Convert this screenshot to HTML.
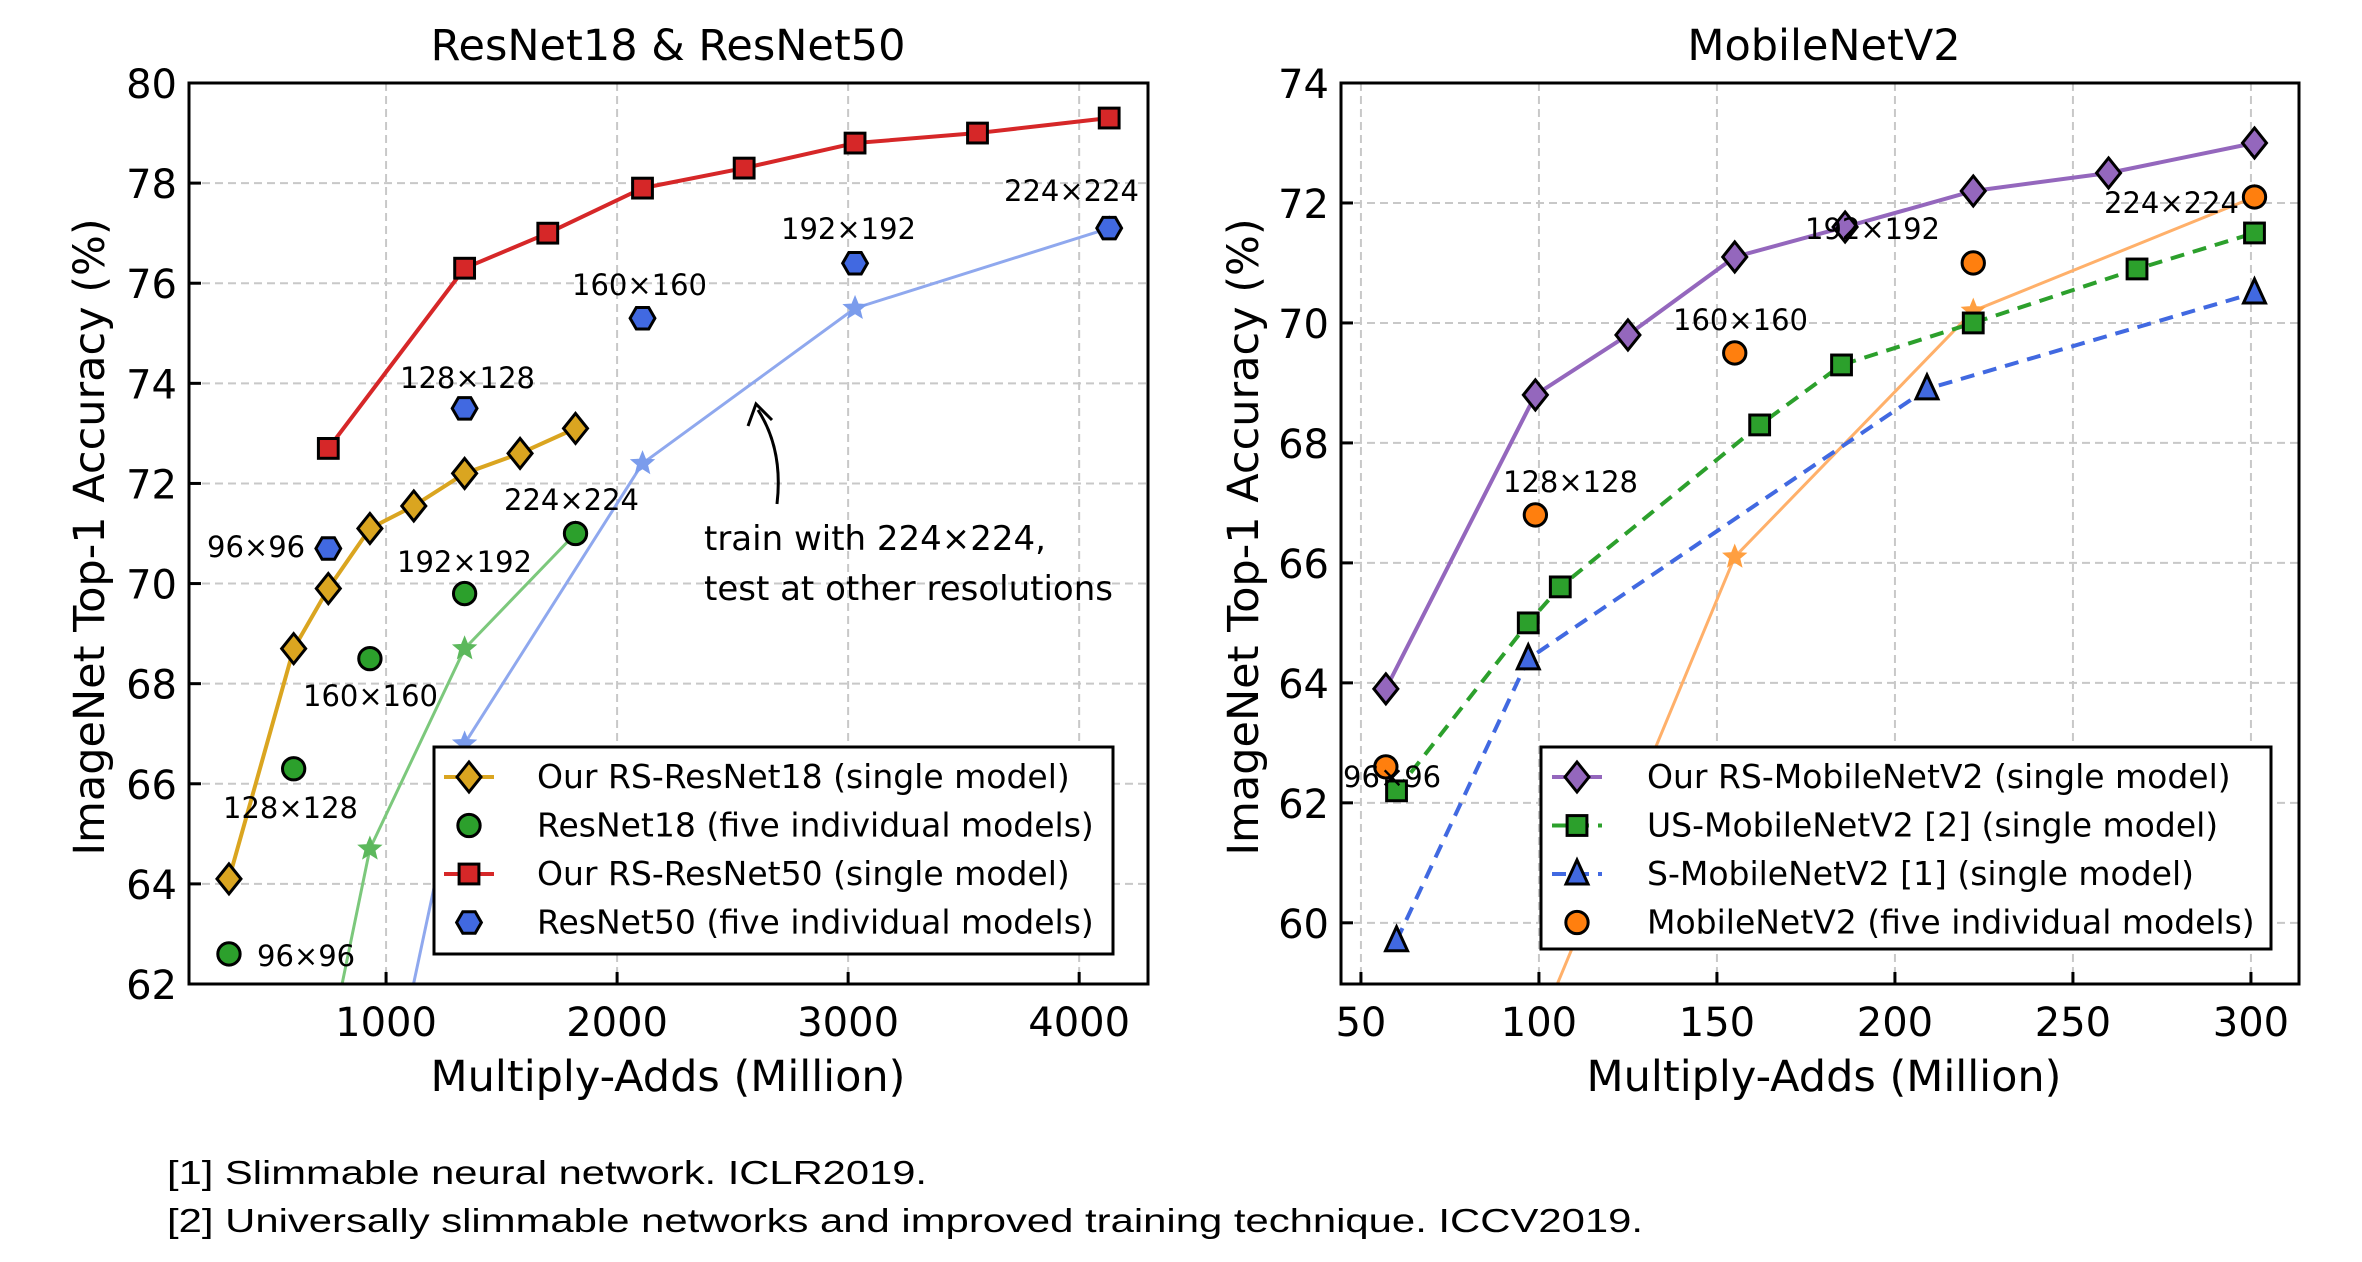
<!DOCTYPE html>
<html><head><meta charset="utf-8"><style>
html,body{margin:0;padding:0;background:#fff;}
svg{display:block;font-family:"DejaVu Sans","Liberation Sans",sans-serif;}
</style></head><body>
<svg id="fig" width="2362" height="1262" viewBox="0 0 2362 1262" xmlns="http://www.w3.org/2000/svg">
<defs>
<clipPath id="clipL"><rect x="189" y="83" width="959" height="901"/></clipPath>
<clipPath id="clipR"><rect x="1341" y="83" width="958" height="901"/></clipPath>
</defs>
<g id="gL"></g>
<g id="gR"></g>
<text x="167" y="1184" font-family="Liberation Sans, sans-serif" font-size="33" textLength="760" lengthAdjust="spacingAndGlyphs">[1] Slimmable neural network. ICLR2019.</text>
<text x="167" y="1232" font-family="Liberation Sans, sans-serif" font-size="33" textLength="1476" lengthAdjust="spacingAndGlyphs">[2] Universally slimmable networks and improved training technique. ICCV2019.</text>
</svg>
<script>
// ---- Left chart data ----
const rs18X = [320,600,750,930,1120,1340,1580,1820];
const rs18Y = [64.1,68.7,69.9,71.1,71.55,72.2,72.6,73.1];
const r18X = [320,600,930,1340,1820];
const r18Y = [62.6,66.3,68.5,69.8,71.0];
const r18TX = [600,930,1340,1820];
const r18TY = [57.3,64.7,68.7,71.0];
const rs50X = [750,1340,1700,2110,2550,3030,3560,4130];
const rs50Y = [72.7,76.3,77.0,77.9,78.3,78.8,79.0,79.3];
const r50X = [750,1340,2110,3030,4130];
const r50Y = [70.7,73.5,75.3,76.4,77.1];
const r50TX = [930,1340,2110,3030,4130];
const r50TY = [57.9,66.8,72.4,75.5,77.1];
const xTicksL = [1000,2000,3000,4000];
const yTicksL = [62,64,66,68,70,72,74,76,78,80];
// ---- Right chart data ----
const rsMX = [57,99,125,155,186,222,260,301];
const rsMY = [63.9,68.8,69.8,71.1,71.6,72.2,72.5,73.0];
const usX = [60,97,106,162,185,222,268,301];
const usY = [62.2,65.0,65.6,68.3,69.3,70.0,70.9,71.5];
const sX = [60,97,209,301];
const sY = [59.7,64.4,68.9,70.5];
const mbX = [57,99,155,222,301];
const mbY = [62.6,66.8,69.5,71.0,72.1];
const mbTX = [99,155,222,301];
const mbTY = [58.1,66.1,70.2,72.1];
const xTicksR = [50,100,150,200,250,300];
const yTicksR = [60,62,64,66,68,70,72,74];

const NS='http://www.w3.org/2000/svg';
function mk(parent,tag,attrs,text){const e=document.createElementNS(NS,tag);for(const k in attrs)e.setAttribute(k,attrs[k]);if(text!==undefined)e.textContent=text;parent.appendChild(e);return e;}

function axis(g,L,R,T,B,x0,x1,y0,y1){
  return {x:v=>L+(v-x0)/(x1-x0)*(R-L), y:v=>B-(v-y0)/(y1-y0)*(B-T)};
}
function marker(g,type,cx,cy,fill,s){
  let e;
  const sw=3;
  if(type==='D'){e=mk(g,'polygon',{points:`${cx},${cy-s} ${cx+s*0.8},${cy} ${cx},${cy+s} ${cx-s*0.8},${cy}`,fill:fill,stroke:'#000','stroke-width':sw});}
  else if(type==='o'){e=mk(g,'circle',{cx:cx,cy:cy,r:s*0.62,fill:fill,stroke:'#000','stroke-width':sw});}
  else if(type==='s'){e=mk(g,'rect',{x:cx-s*0.55,y:cy-s*0.55,width:s*1.1,height:s*1.1,fill:fill,stroke:'#000','stroke-width':sw});}
  else if(type==='h'){let p=[];for(let i=0;i<6;i++){const a=Math.PI/3*i;p.push((cx+s*0.62*Math.cos(a))+','+(cy+s*0.62*Math.sin(a)));}e=mk(g,'polygon',{points:p.join(' '),fill:fill,stroke:'#000','stroke-width':sw});}
  else if(type==='^'){e=mk(g,'polygon',{points:`${cx},${cy-s*0.7} ${cx+s*0.55},${cy+s*0.5} ${cx-s*0.55},${cy+s*0.5}`,fill:fill,stroke:'#000','stroke-width':sw});}
  else if(type==='*'){let p=[];for(let i=0;i<10;i++){const a=-Math.PI/2+Math.PI/5*i;const r=i%2?s*0.22:s*0.5;p.push((cx+r*Math.cos(a))+','+(cy+r*Math.sin(a)));}e=mk(g,'polygon',{points:p.join(' '),fill:fill,stroke:fill,'stroke-width':1});}
  return e;
}
function series(g,ax,xs,ys,color,width,dash,mtype,mfill,msize,name,clip){
  const sg=mk(g,'g',{'clip-path':`url(#${clip})`});
  
  
  if(width>0){
    const pts=xs.map((v,i)=>ax.x(v)+','+ax.y(ys[i])).join(' ');
    const a={points:pts,fill:'none',stroke:color,'stroke-width':width,'stroke-linejoin':'round'};
    if(dash)a['stroke-dasharray']=dash;
    const l=mk(sg,'polyline',a);
    
    
  }
  xs.forEach((v,i)=>{
    const m=marker(sg,mtype,ax.x(v),ax.y(ys[i]),mfill,msize);
    
    
  });
}
function frame(g,ax,L,R,T,B,xt,yt,title,cx,ylabX){
  xt.forEach(v=>{const X=ax.x(v);
    const gl=mk(g,'line',{x1:X,y1:T,x2:X,y2:B,stroke:'#c8c8c8','stroke-width':2,'stroke-dasharray':'8,5'});
    
    
    mk(g,'line',{x1:X,y1:B,x2:X,y2:B-12,stroke:'#000','stroke-width':3});
    const t=mk(g,'text',{x:X,y:1036,'font-size':40,'text-anchor':'middle'},String(v));
    
    
  });
  yt.forEach(v=>{const Y=ax.y(v);
    const gl=mk(g,'line',{x1:L,y1:Y,x2:R,y2:Y,stroke:'#c8c8c8','stroke-width':2,'stroke-dasharray':'8,5'});
    
    
    mk(g,'line',{x1:L,y1:Y,x2:L+12,y2:Y,stroke:'#000','stroke-width':3});
    const t=mk(g,'text',{x:L-12,y:Y+15,'font-size':40,'text-anchor':'end'},String(v));
    
    
  });
  const tt=mk(g,'text',{x:cx,y:60,'font-size':43,'text-anchor':'middle'},title);
  
  
  const xl=mk(g,'text',{x:cx,y:1091,'font-size':43,'text-anchor':'middle'},'Multiply-Adds (Million)');
  
  
  const yl=mk(g,'text',{x:0,y:0,'font-size':43,'text-anchor':'middle',transform:`translate(${ylabX},537) rotate(-90)`},'ImageNet Top-1 Accuracy (%)');
  
  
}
function border(g,L,R,T,B){
  const b=mk(g,'rect',{x:L,y:T,width:R-L,height:B-T,fill:'none',stroke:'#000','stroke-width':3});
  
  
}
function label(g,x,y,t){
  const e=mk(g,'text',{x:x,y:y,'font-size':29},t);
  
  
}
function legend(g,x,y,w,h,hx,tx,rows){
  const lg=mk(g,'g',{});
  
  
  mk(lg,'rect',{x:x,y:y,width:w,height:h,fill:'#fff',stroke:'#000','stroke-width':3});
  rows.forEach((r,i)=>{
    const cy=y+30+i*48.5;
    const eg=mk(lg,'g',{});
    
    
    if(r.line){const a={x1:hx,y1:cy,x2:hx+50,y2:cy,stroke:r.line,'stroke-width':4};if(r.dash)a['stroke-dasharray']=r.dash;mk(eg,'line',a);}
    marker(eg,r.m,hx+25,cy,r.fill,r.s);
    mk(eg,'text',{x:tx,y:cy+11,'font-size':33},r.t);
  });
}

// Left chart
(function(){
  const g=document.getElementById('gL');
  const L=189,R=1148,T=83,B=984;
  const ax=axis(g,L,R,T,B,147,4298,62,80);
  frame(g,ax,L,R,T,B,xTicksL,yTicksL,'ResNet18 & ResNet50',668,104);
  series(g,ax,r18TX,r18TY,'#7cc87c',3,null,'*','#5cb85c',24,'resnet18-test-res-curve','clipL');
  series(g,ax,r50TX,r50TY,'#8fa8ee',3,null,'*','#7b9cec',24,'resnet50-test-res-curve','clipL');
  series(g,ax,rs18X,rs18Y,'#daa520',4,null,'D','#daa520',15,'rs-resnet18-series','clipL');
  series(g,ax,r18X,r18Y,'none',0,null,'o','#2ca02c',18,'resnet18-series','clipL');
  series(g,ax,rs50X,rs50Y,'#d62728',4,null,'s','#d62728',18,'rs-resnet50-series','clipL');
  series(g,ax,r50X,r50Y,'none',0,null,'h','#4169e1',20,'resnet50-series','clipL');
  label(g,207,557,'96×96');label(g,400,388,'128×128');label(g,572,295,'160×160');label(g,781,239,'192×192');label(g,1004,201,'224×224');
  label(g,257,966,'96×96');label(g,223,818,'128×128');label(g,303,706,'160×160');label(g,397,572,'192×192');label(g,504,510,'224×224');
  const ar=mk(g,'path',{d:'M777,504 C781,470 776,438 758,410',fill:'none',stroke:'#000','stroke-width':3});
  
  
  mk(g,'path',{d:'M748,426 L756,404 L772,420',fill:'none',stroke:'#000','stroke-width':3});
  const a1=mk(g,'text',{x:704,y:550,'font-size':34},'train with 224×224,');
  
  
  const a2=mk(g,'text',{x:704,y:600,'font-size':34},'test at other resolutions');
  
  
  legend(g,434,747,679,207,444,537,[
    {line:'#daa520',m:'D',fill:'#daa520',s:15,t:'Our RS-ResNet18 (single model)'},
    {m:'o',fill:'#2ca02c',s:18,t:'ResNet18 (five individual models)'},
    {line:'#d62728',m:'s',fill:'#d62728',s:18,t:'Our RS-ResNet50 (single model)'},
    {m:'h',fill:'#4169e1',s:20,t:'ResNet50 (five individual models)'}]);
  border(g,L,R,T,B);
})();
// Right chart
(function(){
  const g=document.getElementById('gR');
  const L=1341,R=2299,T=83,B=984;
  const ax=axis(g,L,R,T,B,44.4,313.5,58.98,74);
  frame(g,ax,L,R,T,B,xTicksR,yTicksR,'MobileNetV2',1824,1258);
  series(g,ax,mbTX,mbTY,'#ffb06a',3,null,'*','#ff9f40',24,'mobilenetv2-test-res-curve','clipR');
  series(g,ax,sX,sY,'#4169e1',4,'14,9','^','#4169e1',20,'s-mobilenetv2-series','clipR');
  series(g,ax,usX,usY,'#2ca02c',4,'14,9','s','#2ca02c',18,'us-mobilenetv2-series','clipR');
  series(g,ax,rsMX,rsMY,'#9467bd',4,null,'D','#9467bd',15,'rs-mobilenetv2-series','clipR');
  series(g,ax,mbX,mbY,'none',0,null,'o','#ff7f0e',18,'mobilenetv2-series','clipR');
  label(g,1343,787,'96×96');label(g,1503,492,'128×128');label(g,1673,330,'160×160');label(g,1805,239,'192×192');label(g,2104,213,'224×224');
  legend(g,1541,747,730,202,1552,1647,[
    {line:'#9467bd',m:'D',fill:'#9467bd',s:15,t:'Our RS-MobileNetV2 (single model)'},
    {line:'#2ca02c',dash:'14,9',m:'s',fill:'#2ca02c',s:18,t:'US-MobileNetV2 [2] (single model)'},
    {line:'#4169e1',dash:'14,9',m:'^',fill:'#4169e1',s:20,t:'S-MobileNetV2 [1] (single model)'},
    {m:'o',fill:'#ff7f0e',s:18,t:'MobileNetV2 (five individual models)'}]);
  border(g,L,R,T,B);
})();
</script>
</body></html>
